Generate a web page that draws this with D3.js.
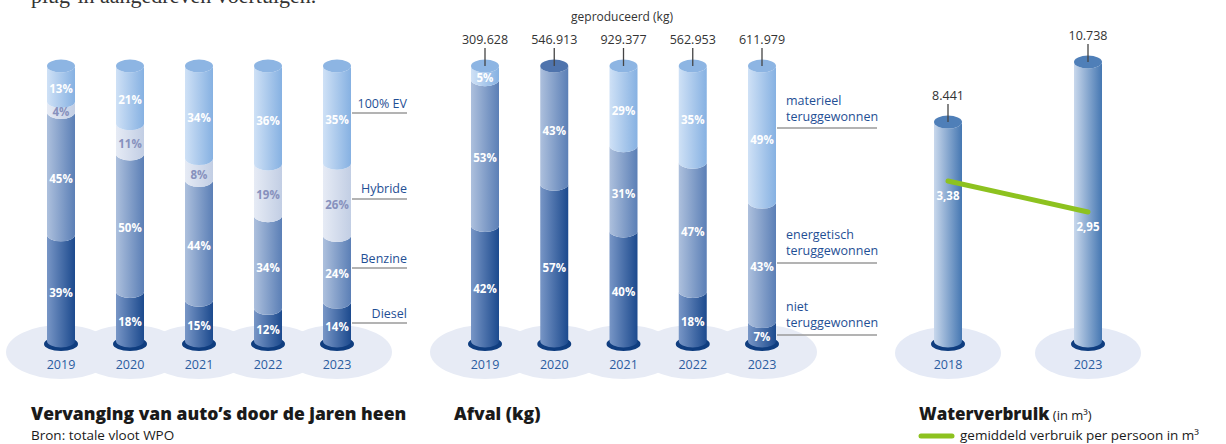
<!DOCTYPE html>
<html>
<head>
<meta charset="utf-8">
<script src="https://cdn.jsdelivr.net/npm/d3@7"></script>
<style>
  body { margin:0; background:#fff; }
  text { font-family:"Open Sans", sans-serif; }
</style>
</head>
<body>
<script>
// data
var carYears = ["2019","2020","2021","2022","2023"];
var carTypes = ["Diesel","Benzine","Hybride","100% EV"];
var diesel  = [39,18,15,12,14];
var benzine = [45,50,44,34,24];
var hybride = [4,11,8,19,26];
var ev      = [13,21,34,36,35];

var afvalYears = ["2019","2020","2021","2022","2023"];
var afvalTypes = ["niet teruggewonnen","energetisch teruggewonnen","materieel teruggewonnen"];
var produced    = [309628,546913,929377,562953,611979];
var niet        = [42,57,40,18,7];
var energetisch = [53,43,31,47,43];
var materieel   = [5,0,29,35,49];

var waterYears = ["2018","2023"];
var waterTotal = [8441,10738];
var waterPerPerson = [3.38,2.95];

var w = 1226;
var h = 444;
var base = 341;
var r = 14;
var ry = 6.5;

var nl = d3.formatLocale({decimal:",", thousands:".", grouping:[3], currency:["€",""]});
var fmtInt = nl.format(",d");
var fmtDec = nl.format(",.2f");

var svg = d3.select("body").append("svg").attr("width",w).attr("height",h);
var defs = svg.append("defs");

// gradients (left light -> right dark)
var grads = {
  dark:  ["#7896c6","#1c4a8e"],
  mid:   ["#adc0dd","#5b7fb6"],
  pale:  ["#e6ebf5","#c2cee4"],
  light: ["#cfe1f6","#86b1e2"],
  water: ["#c9d8ec","#4577b2"]
};
Object.keys(grads).forEach(function(k){
  var g = defs.append("linearGradient").attr("id","g-"+k)
    .attr("x1","0%").attr("x2","100%").attr("y1","0%").attr("y2","0%");
  g.append("stop").attr("offset","0%").attr("stop-color",grads[k][0]);
  g.append("stop").attr("offset","100%").attr("stop-color",grads[k][1]);
});
var capColor = {dark:"#2a5697", mid:"#4f74ad", pale:"#c4d0e6", light:"#8db5e3", water:"#4f7fb8"};

// top cut-off text
svg.append("text").attr("x",31).attr("y",3)
  .attr("font-size","22px")
  .attr("fill","#333").style("font-family","'Liberation Serif', serif")
  .text("plug-in aangedreven voertuigen.");

function segPath(cx, yTop, yBot){
  return "M"+(cx-r)+","+yTop+
    " A"+r+","+ry+" 0 0,0 "+(cx+r)+","+yTop+
    " L"+(cx+r)+","+yBot+
    " A"+r+","+ry+" 0 0,1 "+(cx-r)+","+yBot+" Z";
}

function bubbles(g, x, years, rx, ryB){
  g.selectAll("ellipse.bub").data(years).enter().append("ellipse")
    .attr("class","bub")
    .attr("cx",function(d){ return x(d); })
    .attr("cy",352)
    .attr("rx",rx).attr("ry",ryB)
    .attr("fill","#e7ebf5");
}

function yearLabels(g, x, years){
  g.selectAll("text.yr").data(years).enter().append("text")
    .attr("class","yr")
    .attr("x",function(d){ return x(d); })
    .attr("y",369)
    .attr("text-anchor","middle")
    .attr("font-size","12.5px")
    .attr("fill","#2b5c9f")
    .text(function(d){ return d; });
}

function rings(g, x, years){
  g.selectAll("ellipse.ring").data(years).enter().append("ellipse")
    .attr("class","ring")
    .attr("cx",function(d){ return x(d); })
    .attr("cy",base+3)
    .attr("rx",r+3).attr("ry",ry+0.5)
    .attr("fill","#0f3d7f");
}

// stacked cylinders, every bar scaled to the same height
function stackedChart(g, x, years, keys, rows, colors, labelColors){
  var y = d3.scaleLinear().domain([0,1]).range([base,66]);
  var series = d3.stack().keys(keys).offset(d3.stackOffsetExpand)(rows);

  bubbles(g, x, years, 55, 27);
  rings(g, x, years);

  series.forEach(function(s, si){
    g.selectAll("path.s"+si).data(s).enter().append("path")
      .attr("d",function(d){ return segPath(x(d.data.year), y(d[1]), y(d[0])); })
      .attr("fill","url(#g-"+colors[si]+")");
  });

  // caps
  g.selectAll("ellipse.cap").data(rows).enter().append("ellipse")
    .attr("cx",function(d){ return x(d.year); })
    .attr("cy",y(1))
    .attr("rx",r).attr("ry",ry)
    .attr("fill",function(d){
      var top = 0;
      keys.forEach(function(k,i){ if (d[k] > 0) top = i; });
      return capColor[colors[top]];
    });

  // percentage labels
  series.forEach(function(s, si){
    var key = s.key;
    g.selectAll("text.l"+si).data(s.filter(function(d){ return d.data[key] > 0; }))
      .enter().append("text")
      .attr("x",function(d){ return x(d.data.year); })
      .attr("y",function(d){ return (y(d[0])+y(d[1]))/2 + ry - 1; })
      .attr("dy","0.35em")
      .attr("text-anchor","middle")
      .attr("font-size","11.5px")
      .attr("font-weight","700")
      .attr("fill",labelColors[si])
      .text(function(d){ return d.data[key]+"%"; });
  });

  yearLabels(g, x, years);
  return y;
}

// ---- panel 1: auto's
var xCar = d3.scalePoint().domain(carYears).range([61,337]);
var carRows = carYears.map(function(yr,i){
  return {year:yr, "Diesel":diesel[i], "Benzine":benzine[i], "Hybride":hybride[i], "100% EV":ev[i]};
});
var g1 = svg.append("g");
stackedChart(g1, xCar, carYears, carTypes, carRows,
  ["dark","mid","pale","light"], ["#fff","#fff","#8791bd","#fff"]);

var carLegend = [
  {y:108, line:113},
  {y:193, line:199},
  {y:263, line:268},
  {y:318, line:323}
];
carLegend.forEach(function(d, i){
  g1.append("line").attr("x1",352).attr("x2",407).attr("y1",d.line).attr("y2",d.line)
    .attr("stroke","#9a9a9a").attr("stroke-width",1.5);
  g1.append("text").attr("x",407).attr("y",d.y).attr("text-anchor","end")
    .attr("font-size","12.5px").attr("fill","#1f4f95").text(carTypes[carTypes.length-1-i]);
});

svg.append("text").attr("x",31).attr("y",420).attr("font-size","17.5px").attr("font-weight","800")
  .attr("fill","#1a1a1a").text("Vervanging van auto’s door de jaren heen");
svg.append("text").attr("x",31).attr("y",440).attr("font-size","13.5px")
  .attr("fill","#1a1a1a").text("Bron: totale vloot WPO");

// ---- panel 2: afval
var xAfval = d3.scalePoint().domain(afvalYears).range([485,762]);
var afvalRows = afvalYears.map(function(yr,i){
  var o = {year:yr};
  o[afvalTypes[0]] = niet[i];
  o[afvalTypes[1]] = energetisch[i];
  o[afvalTypes[2]] = materieel[i];
  return o;
});
var g2 = svg.append("g");
stackedChart(g2, xAfval, afvalYears, afvalTypes, afvalRows,
  ["dark","mid","light"], ["#fff","#fff","#fff"]);

g2.append("text").attr("x",622).attr("y",21).attr("text-anchor","middle")
  .attr("font-size","12px").attr("fill","#333").text("geproduceerd (kg)");
g2.selectAll("text.prod").data(produced).enter().append("text")
  .attr("x",function(d,i){ return xAfval(afvalYears[i]); })
  .attr("y",44).attr("text-anchor","middle")
  .attr("font-size","12.5px").attr("fill","#333")
  .text(function(d){ return fmtInt(d); });
g2.selectAll("line.tick").data(produced).enter().append("line")
  .attr("x1",function(d,i){ return xAfval(afvalYears[i]); })
  .attr("x2",function(d,i){ return xAfval(afvalYears[i]); })
  .attr("y1",48).attr("y2",66)
  .attr("stroke","#444").attr("stroke-width",1.3);

var afvalLegend = [
  {t:["materieel","teruggewonnen"], y:105, line:128},
  {t:["energetisch","teruggewonnen"], y:239, line:263},
  {t:["niet","teruggewonnen"], y:311, line:335}
];
afvalLegend.forEach(function(d){
  g2.append("line").attr("x1",777).attr("x2",877).attr("y1",d.line).attr("y2",d.line)
    .attr("stroke","#9a9a9a").attr("stroke-width",1.5);
  d.t.forEach(function(t,j){
    g2.append("text").attr("x",786).attr("y",d.y+j*16)
      .attr("font-size","12.5px").attr("fill","#1f4f95").text(t);
  });
});

svg.append("text").attr("x",454).attr("y",420).attr("font-size","17.5px").attr("font-weight","800")
  .attr("fill","#1a1a1a").text("Afval (kg)");

// ---- panel 3: water
var xWater = d3.scalePoint().domain(waterYears).range([948,1088]);
var yWater = d3.scaleLinear().domain([0,10738]).range([base+2,62]);
var yPerson = d3.scaleLinear().domain([2.95,3.38]).range([212,181]);
var g3 = svg.append("g");

g3.selectAll("ellipse.bub").data(waterYears).enter().append("ellipse")
  .attr("cx",function(d){ return xWater(d); })
  .attr("cy",353).attr("rx",53).attr("ry",26)
  .attr("fill","#e5eaf6");
rings(g3, xWater, waterYears);

g3.selectAll("path.wbar").data(waterTotal).enter().append("path")
  .attr("d",function(d,i){ return segPath(xWater(waterYears[i]), yWater(d), base); })
  .attr("fill","url(#g-water)");
g3.selectAll("ellipse.cap").data(waterTotal).enter().append("ellipse")
  .attr("cx",function(d,i){ return xWater(waterYears[i]); })
  .attr("cy",function(d){ return yWater(d); })
  .attr("rx",r).attr("ry",ry).attr("fill",capColor.water);

g3.selectAll("text.val").data(waterTotal).enter().append("text")
  .attr("x",function(d,i){ return xWater(waterYears[i]); })
  .attr("y",function(d){ return yWater(d)-22; })
  .attr("text-anchor","middle").attr("font-size","12.5px").attr("fill","#333")
  .text(function(d){ return fmtInt(d); });
g3.selectAll("line.tick").data(waterTotal).enter().append("line")
  .attr("x1",function(d,i){ return xWater(waterYears[i]); })
  .attr("x2",function(d,i){ return xWater(waterYears[i]); })
  .attr("y1",function(d){ return yWater(d)-18; })
  .attr("y2",function(d){ return yWater(d); })
  .attr("stroke","#444").attr("stroke-width",1.3);

var line = d3.line()
  .x(function(d,i){ return xWater(waterYears[i]); })
  .y(function(d){ return yPerson(d); });
g3.append("path").datum(waterPerPerson).attr("d",line)
  .attr("fill","none").attr("stroke","#8dc21f").attr("stroke-width",5)
  .attr("stroke-linecap","round");
g3.selectAll("text.pp").data(waterPerPerson).enter().append("text")
  .attr("x",function(d,i){ return xWater(waterYears[i]); })
  .attr("y",function(d){ return yPerson(d)+15; })
  .attr("dy","0.35em")
  .attr("text-anchor","middle").attr("font-size","11.5px").attr("font-weight","700")
  .attr("fill","#fff")
  .text(function(d){ return fmtDec(d); });

yearLabels(g3, xWater, waterYears);

var wt = svg.append("text").attr("x",919).attr("y",420).attr("fill","#1a1a1a");
wt.append("tspan").attr("font-size","17px").attr("font-weight","800").text("Waterverbruik");
wt.append("tspan").attr("font-size","13px").text(" (in m³)");
svg.append("line").attr("x1",921).attr("x2",952).attr("y1",436).attr("y2",436)
  .attr("stroke","#8dc21f").attr("stroke-width",5).attr("stroke-linecap","round");
svg.append("text").attr("x",960).attr("y",440).attr("font-size","13.5px").attr("fill","#1a1a1a")
  .text("gemiddeld verbruik per persoon in m³");
</script>
</body>
</html>
